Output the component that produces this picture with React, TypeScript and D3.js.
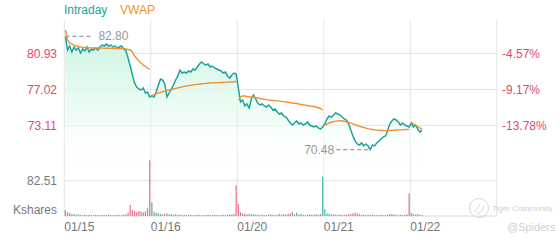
import React from "react";
import * as d3 from "d3";

// ---- data (10-minute samples, 40 per session) ----
const dayLabels = ["01/15", "01/16", "01/20", "01/21", "01/22"];
const slotsPerDay = 40;

const price1 = [82.80, 81.31, 81.74, 81.09, 81.64, 81.31, 81.53, 80.98, 81.42, 81.20, 81.64, 81.09, 81.42, 81.31, 81.53, 81.31, 81.64, 81.85, 81.74, 81.96, 81.74, 81.85, 81.64, 81.74, 81.53, 81.64, 81.74, 81.42, 81.20, 80.44, 79.57, 78.60, 77.73, 77.29, 77.07, 76.97, 77.18, 76.64, 76.75, 76.21];
const price2 = [76.32, 76.21, 76.75, 77.51, 78.16, 78.05, 77.62, 76.21, 76.64, 77.07, 77.51, 78.05, 78.49, 79.14, 78.81, 78.92, 78.81, 79.03, 78.92, 79.25, 79.14, 79.46, 79.79, 80.01, 79.79, 79.68, 79.79, 79.46, 79.57, 79.36, 79.25, 79.14, 79.03, 78.81, 78.92, 78.49, 78.27, 78.60, 78.81, 78.70];
const price3 = [77.18, 75.66, 75.88, 75.23, 75.45, 75.01, 75.99, 76.42, 75.99, 75.55, 75.34, 75.45, 75.23, 75.12, 75.34, 75.12, 74.79, 74.90, 74.58, 74.36, 74.47, 74.14, 74.03, 73.71, 73.38, 73.16, 73.38, 73.60, 73.27, 73.38, 73.16, 73.27, 73.49, 73.16, 73.06, 72.95, 73.06, 72.84, 72.73, 72.95];
const price4 = [73.27, 73.82, 74.14, 74.03, 74.25, 74.47, 74.36, 74.25, 74.03, 73.82, 73.71, 73.27, 72.62, 71.97, 71.43, 71.10, 70.99, 71.21, 70.89, 71.10, 70.89, 70.48, 70.99, 70.89, 71.21, 71.43, 71.64, 71.86, 71.97, 72.51, 73.27, 73.60, 73.82, 73.71, 73.49, 73.16, 73.38, 73.16, 73.06, 72.95];
const price5 = [73.38, 72.95, 73.16, 72.73, 72.40, 72.62];

const vwap1 = [83.48, 82.40, 82.07, 81.96, 81.85, 81.74, 81.69, 81.64, 81.60, 81.58, 81.56, 81.55, 81.54, 81.53, 81.53, 81.52, 81.52, 81.51, 81.51, 81.50, 81.50, 81.49, 81.49, 81.48, 81.47, 81.46, 81.46, 81.45, 81.42, 81.36, 81.31, 81.09, 80.66, 80.39, 80.12, 79.90, 79.68, 79.52, 79.36, 79.19];
const vwap2 = [76.32, 76.45, 76.56, 76.64, 76.72, 76.78, 76.85, 76.90, 76.96, 77.02, 77.07, 77.13, 77.19, 77.25, 77.31, 77.36, 77.40, 77.44, 77.48, 77.52, 77.55, 77.58, 77.61, 77.64, 77.66, 77.68, 77.70, 77.72, 77.74, 77.75, 77.76, 77.77, 77.78, 77.79, 77.80, 77.82, 77.83, 77.84, 77.86, 77.87];
const vwap3 = [75.88, 76.21, 76.32, 76.32, 76.26, 76.21, 76.21, 76.21, 76.15, 76.10, 76.04, 75.99, 75.96, 75.92, 75.89, 75.86, 75.83, 75.80, 75.78, 75.76, 75.73, 75.70, 75.66, 75.63, 75.60, 75.56, 75.53, 75.50, 75.45, 75.41, 75.36, 75.32, 75.28, 75.23, 75.20, 75.17, 75.12, 75.04, 74.96, 74.79];
const vwap4 = [73.16, 73.27, 73.38, 73.46, 73.52, 73.58, 73.61, 73.62, 73.60, 73.57, 73.51, 73.45, 73.37, 73.29, 73.21, 73.12, 73.03, 72.96, 72.89, 72.83, 72.77, 72.72, 72.67, 72.64, 72.61, 72.59, 72.57, 72.56, 72.55, 72.55, 72.56, 72.58, 72.60, 72.62, 72.63, 72.64, 72.65, 72.66, 72.67, 72.68];
const vwap5 = [73.45, 73.27, 73.11, 73.00, 72.84, 72.73];

// volume in thousands of shares
const vol1 = [14, 9, 7, 4, 5, 3, 4, 3, 2, 3, 2, 3, 2, 2, 3, 2, 2, 3, 2, 2, 3, 2, 2, 2, 3, 2, 2, 3, 4, 8, 26, 14, 11, 9, 12, 10, 9, 11, 18, 130];
const vol2 = [32, 10, 7, 6, 5, 4, 5, 6, 4, 4, 3, 4, 3, 3, 2, 3, 2, 2, 3, 2, 2, 3, 2, 2, 2, 2, 3, 2, 2, 3, 2, 2, 2, 3, 2, 3, 4, 3, 5, 72];
const vol3 = [28, 9, 6, 5, 4, 5, 4, 4, 3, 3, 2, 3, 2, 2, 3, 4, 3, 2, 3, 5, 3, 4, 3, 5, 6, 9, 4, 8, 3, 5, 3, 2, 3, 4, 3, 3, 4, 3, 5, 92];
const vol4 = [16, 6, 5, 4, 4, 3, 3, 3, 2, 3, 3, 4, 5, 6, 8, 6, 4, 3, 3, 2, 3, 2, 3, 2, 2, 2, 3, 2, 2, 3, 4, 5, 3, 3, 2, 3, 2, 3, 4, 53];
const vol5 = [7, 4, 3, 5, 3, 2];

const priceTicks = [80.93, 77.02, 73.11];
const pctLabels = ["-4.57%", "-9.17%", "-13.78%"];
const volTick = 82.51;
const volUnit = "Kshares";

const priceDays = [price1, price2, price3, price4, price5];
const vwapDays = [vwap1, vwap2, vwap3, vwap4, vwap5];
const volDays = [vol1, vol2, vol3, vol4, vol5];

const TEAL = "#1ba39c";
const ORANGE = "#f0922e";
const RED = "#e2486e";
const GRID = "#e5e5e5";
const FONT = "'Liberation Sans', Arial, sans-serif";

type Pt = { t: number; v: number };

export default function App() {
  const W = 560, H = 240;
  const left = 64.3, right = 496.7, top = 20, bottom = 216;
  const x = d3.scaleLinear().domain([0, dayLabels.length]).range([left, right]);
  const y = d3.scaleLinear().domain([73.11, 80.93]).range([125.5, 53.5]);
  const yv = d3.scaleLinear().domain([0, volTick]).range([bottom, 180.7]);

  const tOf = (d: number, i: number) => d + (i + 0.5) / slotsPerDay;
  const prices: Pt[] = priceDays.flatMap((arr, d) => arr.map((v, i) => ({ t: tOf(d, i), v })));
  const vols = volDays.flatMap((arr, d) => arr.map((v, i) => ({ t: tOf(d, i), v })));

  const line = d3.line<Pt>().x((p) => x(p.t)).y((p) => y(p.v));
  const area = d3.area<Pt>().x((p) => x(p.t)).y0(165).y1((p) => y(p.v));

  const maxI = d3.maxIndex(prices, (p) => p.v);
  const minI = d3.minIndex(prices, (p) => p.v);
  const maxP = prices[maxI], minP = prices[minI];

  return (
    <svg width={W} height={H} style={{ position: "absolute", left: 0, top: 0, background: "#fff" }} fontFamily={FONT}>
      <defs>
        <linearGradient id="fillG" gradientUnits="userSpaceOnUse" x1="0" y1="30" x2="0" y2="165">
          <stop offset="0" stopColor="#c6f4df" stopOpacity="0.95" />
          <stop offset="0.6" stopColor="#e4faef" stopOpacity="0.7" />
          <stop offset="1" stopColor="#ffffff" stopOpacity="0" />
        </linearGradient>
      </defs>

      {/* legend */}
      <text x={64} y={14} fontSize={12} fill={TEAL}>Intraday</text>
      <text x={120} y={14} fontSize={12} fill={ORANGE}>VWAP</text>

      {/* grid */}
      {d3.range(dayLabels.length + 1).map((d) => (
        <line key={"vg" + d} x1={x(d)} x2={x(d)} y1={top} y2={bottom} stroke={GRID} />
      ))}
      {priceTicks.map((p) => (
        <line key={"hg" + p} x1={left} x2={right} y1={y(p)} y2={y(p)} stroke={GRID} />
      ))}
      <line x1={left} x2={right} y1={yv(volTick)} y2={yv(volTick)} stroke={GRID} />
      <line x1={left} x2={right} y1={bottom} y2={bottom} stroke="#dcdcdc" />

      {/* area + lines */}
      <path d={area(prices) || ""} fill="url(#fillG)" />
      <path d={line(prices) || ""} fill="none" stroke={TEAL} strokeWidth={1.5} />
      {vwapDays.map((arr, d) => (
        <path
          key={"vw" + d}
          d={line(arr.map((v, i) => ({ t: tOf(d, i), v }))) || ""}
          fill="none"
          stroke={ORANGE}
          strokeWidth={1.4}
        />
      ))}

      {/* volume */}
      {vols.map((b, i) => {
        const up = i === 0 ? false : prices[i].v >= prices[i - 1].v;
        return (
          <rect
            key={"v" + i}
            x={x(b.t) - 0.6}
            width={1.2}
            y={yv(b.v)}
            height={bottom - yv(b.v)}
            fill={up ? "#3dbcb2" : "#ef6f8b"}
          />
        );
      })}

      {/* max / min annotations */}
      <line x1={x(maxP.t)} x2={x(maxP.t) + 28} y1={y(maxP.v)} y2={y(maxP.v)} stroke="#9a9a9a" strokeDasharray="4,3" strokeWidth={1.3} />
      <text x={x(maxP.t) + 33} y={y(maxP.v)} dy="0.35em" fontSize={12} fill="#999">{maxP.v.toFixed(2)}</text>
      <line x1={x(minP.t) - 34} x2={x(minP.t)} y1={y(minP.v)} y2={y(minP.v)} stroke="#9a9a9a" strokeDasharray="4,3" strokeWidth={1.3} />
      <text x={x(minP.t) - 36} y={y(minP.v)} dy="0.35em" fontSize={12} fill="#999" textAnchor="end">{minP.v.toFixed(2)}</text>

      {/* left axis labels */}
      {priceTicks.map((p) => (
        <text key={"pl" + p} x={57} y={y(p)} dy="0.35em" fontSize={12} fill={RED} textAnchor="end">{p.toFixed(2)}</text>
      ))}
      <text x={57} y={yv(volTick)} dy="0.35em" fontSize={12} fill="#777" textAnchor="end">{volTick.toFixed(2)}</text>
      <text x={57} y={210} dy="0.35em" fontSize={12} fill="#777" textAnchor="end">{volUnit}</text>

      {/* right axis labels */}
      {priceTicks.map((p, i) => (
        <text key={"pr" + p} x={502} y={y(p)} dy="0.35em" fontSize={12} fill={RED}>{pctLabels[i]}</text>
      ))}

      {/* x labels */}
      {dayLabels.map((l, d) => (
        <text key={l} x={x(d)} y={231} fontSize={12} fill="#777">{l}</text>
      ))}

      {/* watermark */}
      <circle cx={479} cy={208} r={9.5} fill="none" stroke="#d6d6d6" strokeWidth={1} />
      <path d="M474,212 q4,-2 6,-8 M477,214 q6,-2 7,-9" fill="none" stroke="#d6d6d6" strokeWidth={1} />
      <text x={492} y={211} fontSize={8} fill="#cfcfcf">Tiger Community</text>
      <text x={507} y={231} fontSize={11} fill="#cfcfcf">@Spiders</text>
    </svg>
  );
}
